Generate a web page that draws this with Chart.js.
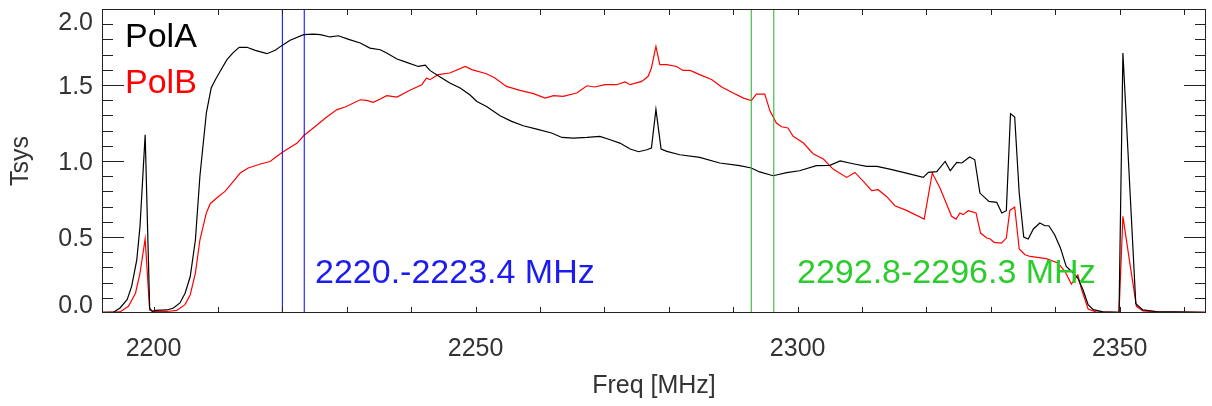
<!DOCTYPE html>
<html>
<head>
<meta charset="utf-8">
<script src="https://cdn.jsdelivr.net/npm/chart.js@4/dist/chart.umd.min.js"></script>
<style>
  body { margin: 0; background: #fff; }
  canvas { display: block; }
</style>
</head>
<body>
<canvas id="tsysChart" width="1212" height="406"></canvas>
<script>
// PolA (black)
var freqA = [2192.0, 2193.8, 2194.8, 2195.9, 2196.6, 2197.4, 2197.9, 2198.7, 2199.4, 2199.8,
  2200.3, 2202.1, 2203.1, 2204.1, 2204.9, 2205.7, 2206.5, 2207.2, 2208.2, 2208.95,
  2209.6, 2210.35, 2211.4, 2212.4, 2213.3, 2214.5, 2215.8, 2217.6, 2218.9, 2219.9,
  2221.2, 2223.3, 2224.8, 2225.9, 2227.4, 2228.7, 2230.3, 2232.1, 2233.6, 2235.2,
  2236.2, 2237.8, 2239.3, 2241.1, 2242.2, 2242.9, 2244.5, 2246.0, 2247.6, 2249.1,
  2250.2, 2251.7, 2253.8, 2255.6, 2257.4, 2259.5, 2261.8, 2263.4, 2265.2, 2267.3,
  2269.3, 2270.9, 2272.4, 2274.0, 2275.3, 2276.6, 2277.3, 2278.0, 2278.8, 2279.7,
  2281.7, 2284.8, 2287.9, 2291.0, 2292.8, 2294.1, 2296.2, 2298.3, 2300.3, 2302.9,
  2305.0, 2306.6, 2308.6, 2310.7, 2312.3, 2314.3, 2316.4, 2319.5, 2320.3, 2321.6,
  2322.9, 2323.7, 2324.7, 2325.5, 2326.7, 2327.5, 2328.3, 2329.7, 2330.9, 2331.7,
  2332.4, 2333.05, 2333.7, 2334.4, 2335.1, 2335.8, 2336.6, 2337.6, 2338.4, 2339.0,
  2339.9, 2340.8, 2341.7, 2342.8, 2343.5, 2344.3, 2345.1, 2345.9, 2347.4, 2349.9,
  2350.5, 2352.5, 2353.6, 2355.7, 2363.4];
var tsysA = [0.005, 0.005, 0.033, 0.088, 0.175, 0.35, 0.57, 1.173, 0.033, 0.01,
  0.017, 0.02, 0.033, 0.066, 0.13, 0.24, 0.48, 0.90, 1.316, 1.48,
  1.535, 1.59, 1.667, 1.715, 1.748, 1.748, 1.728, 1.706, 1.728, 1.759,
  1.794, 1.831, 1.835, 1.831, 1.816, 1.824, 1.80, 1.776, 1.743, 1.732,
  1.71, 1.671, 1.649, 1.622, 1.631, 1.596, 1.553, 1.513, 1.48, 1.436,
  1.392, 1.359, 1.298, 1.261, 1.232, 1.21, 1.184, 1.155, 1.151, 1.155,
  1.162, 1.14, 1.118, 1.079, 1.061, 1.074, 1.085, 1.34, 1.079, 1.063,
  1.041, 1.024, 0.987, 0.969, 0.954, 0.928, 0.903, 0.923, 0.936, 0.969,
  0.971, 1.0, 0.982, 0.965, 0.965, 0.947, 0.925, 0.892, 0.925, 0.93,
  0.997, 0.936, 0.991, 0.987, 1.026, 1.008, 0.789, 0.734, 0.728, 0.658,
  0.673, 1.311, 1.289, 0.789, 0.50, 0.487, 0.553, 0.592, 0.574, 0.574,
  0.515, 0.428, 0.307, 0.263, 0.23, 0.153, 0.055, 0.022, 0.007, 0.005,
  1.71, 0.061, 0.02, 0.01, 0.005];

// PolB (red)
var freqB = [2192.0, 2194.8, 2196.1, 2197.2, 2197.9, 2198.7, 2199.4, 2200.1, 2202.1, 2203.6,
  2204.9, 2205.7, 2206.5, 2207.2, 2208.2, 2208.8, 2209.8, 2211.1, 2212.4, 2213.45,
  2214.7, 2216.6, 2218.1, 2219.1, 2220.2, 2222.3, 2223.3, 2224.8, 2226.9, 2228.5,
  2229.75, 2232.1, 2233.1, 2234.1, 2235.2, 2236.2, 2237.8, 2239.8, 2241.65, 2242.4,
  2242.9, 2244.2, 2246.0, 2248.4, 2249.4, 2251.7, 2253.0, 2254.8, 2256.9, 2259.0,
  2260.8, 2262.1, 2263.6, 2265.7, 2267.3, 2268.5, 2270.1, 2271.9, 2273.2, 2274.0,
  2275.8, 2276.8, 2277.3, 2278.0, 2278.6, 2279.7, 2281.2, 2282.2, 2283.3, 2284.8,
  2286.7, 2288.2, 2290.0, 2291.6, 2292.8, 2293.6, 2294.9, 2295.7, 2296.7, 2297.5,
  2298.5, 2299.3, 2300.9, 2302.4, 2304.0, 2305.5, 2307.6, 2308.9, 2310.2, 2311.5,
  2312.5, 2313.8, 2315.1, 2316.9, 2319.65, 2320.9, 2322.1, 2323.9, 2324.6, 2325.2,
  2325.7, 2326.5, 2327.7, 2328.4, 2329.35, 2329.9, 2330.5, 2331.65, 2332.4, 2332.95,
  2333.7, 2334.4, 2335.3, 2336.1, 2338.6, 2340.4, 2341.5, 2342.5, 2343.5, 2344.1,
  2345.1, 2346.3, 2349.9, 2350.5, 2351.5, 2352.6, 2353.6, 2355.7, 2363.4];
var tsysB = [0.005, 0.007, 0.044, 0.13, 0.263, 0.487, 0.02, 0.01, 0.01, 0.017,
  0.055, 0.12, 0.263, 0.48, 0.658, 0.719, 0.757, 0.80, 0.866, 0.921,
  0.954, 0.98, 0.997, 1.03, 1.063, 1.118, 1.166, 1.217, 1.289, 1.338,
  1.355, 1.403, 1.399, 1.386, 1.408, 1.43, 1.421, 1.465, 1.502, 1.546,
  1.535, 1.568, 1.579, 1.622, 1.601, 1.574, 1.546, 1.491, 1.465, 1.443,
  1.414, 1.43, 1.425, 1.447, 1.495, 1.487, 1.502, 1.502, 1.52, 1.502,
  1.524, 1.557, 1.612, 1.754, 1.634, 1.634, 1.622, 1.596, 1.596, 1.568,
  1.535, 1.487, 1.447, 1.414, 1.397, 1.44, 1.44, 1.33, 1.25, 1.225,
  1.217, 1.162, 1.118, 1.048, 1.013, 0.947, 0.892, 0.925, 0.866, 0.805,
  0.811, 0.767, 0.706, 0.675, 0.618, 0.921, 0.822, 0.636, 0.618, 0.658,
  0.647, 0.673, 0.658, 0.526, 0.493, 0.487, 0.465, 0.46, 0.493, 0.675,
  0.697, 0.421, 0.383, 0.372, 0.358, 0.329, 0.274, 0.19, 0.25, 0.153,
  0.026, 0.007, 0.005, 0.636, 0.35, 0.044, 0.014, 0.007, 0.005];

// band edges (vertical lines) and their captions
var bandBlue = [2220.0, 2223.4];
var bandGreen = [2292.8, 2296.3];
var bandLabels = ['2220.-2223.4 MHz', '2292.8-2296.3 MHz'];

var seriesNames = ['PolA', 'PolB'];
var xTickValues = [2200, 2250, 2300, 2350];
var yTickValues = [0, 0.5, 1.0, 1.5, 2.0];
var yTickLabels = ['0.0', '0.5', '1.0', '1.5', '2.0'];

var FONT = '"Liberation Sans", Arial, Helvetica, sans-serif';

function toPoints(xs, ys) {
   var pts = [];
   for (var i = 0; i < xs.length; i++) pts.push({x: xs[i], y: ys[i]});
   return pts;
}

function vline(f, color) {
   return {data: [{x: f, y: 0}, {x: f, y: 2}], borderColor: color, borderWidth: 1,
           pointRadius: 0, tension: 0};
}

// IDL style frame: box, inward ticks on all sides, y labels, legend text, band captions
var idlFrame = {
   id: 'idlFrame',
   afterDraw: function(chart) {
      var ctx = chart.ctx, a = chart.chartArea;
      var xs = chart.scales.x, ys = chart.scales.y;
      ctx.save();
      ctx.strokeStyle = '#222';
      ctx.lineWidth = 1;
      ctx.strokeRect(a.left + 0.5, a.top + 0.5, a.right - a.left - 1, a.bottom - a.top - 1);

      ctx.beginPath();
      for (var f = 2200; f <= 2360; f += 10) {
         var px = Math.round(xs.getPixelForValue(f)) + 0.5;
         ctx.moveTo(px, a.top); ctx.lineTo(px, a.top + 6);
         ctx.moveTo(px, a.bottom); ctx.lineTo(px, a.bottom - 6);
      }
      for (var k = 1; k < 20; k++) {
         var py = Math.round(ys.getPixelForValue(k / 10)) + 0.5;
         var len = (k % 5 === 0) ? 22 : 11;
         ctx.moveTo(a.left, py); ctx.lineTo(a.left + len, py);
         ctx.moveTo(a.right, py); ctx.lineTo(a.right - len, py);
      }
      ctx.stroke();

      ctx.font = '25px ' + FONT;
      ctx.fillStyle = '#333';
      ctx.textAlign = 'right';
      ctx.textBaseline = 'middle';
      for (var j = 0; j < yTickValues.length; j++) {
         var ly = ys.getPixelForValue(yTickValues[j]) + 2;
         ly = Math.min(Math.max(ly, a.top + 14), a.bottom - 7);
         ctx.fillText(yTickLabels[j], 93, ly);
      }

      ctx.font = '34px ' + FONT;
      ctx.textAlign = 'left';
      ctx.textBaseline = 'alphabetic';
      ctx.fillStyle = '#000';
      ctx.fillText(seriesNames[0], 125, 47);
      ctx.fillStyle = '#ff0000';
      ctx.fillText(seriesNames[1], 125, 93);
      ctx.fillStyle = '#1c1cf0';
      ctx.fillText(bandLabels[0], 315, 283);
      ctx.fillStyle = '#2ccc2c';
      ctx.fillText(bandLabels[1], 797, 283);
      ctx.restore();
   }
};

var ctx = document.getElementById('tsysChart');

var tsysChart = new Chart(ctx, {
   type: 'line',
   data: {
      datasets: [
         vline(bandBlue[0], '#0000ff'),
         vline(bandBlue[1], '#0000ff'),
         vline(bandGreen[0], '#22b022'),
         vline(bandGreen[1], '#22b022'),
         {label: seriesNames[0], data: toPoints(freqA, tsysA), borderColor: '#000000',
          borderWidth: 1.2, pointRadius: 0, tension: 0},
         {label: seriesNames[1], data: toPoints(freqB, tsysB), borderColor: '#ff0000',
          borderWidth: 1.2, pointRadius: 0, tension: 0}
      ]
   },
   options: {
      responsive: false,
      animation: false,
      layout: {padding: {left: 0, right: 6, top: 9, bottom: 0}},
      plugins: {legend: {display: false}, tooltip: {enabled: false}},
      scales: {
         x: {
            type: 'linear',
            min: 2192.0,
            max: 2363.4,
            grid: {display: false, drawTicks: false},
            border: {display: false},
            afterBuildTicks: function(s) {
               s.ticks = xTickValues.map(function(v) { return {value: v}; });
            },
            afterFit: function(s) { s.height = 93; s.paddingLeft = 0; s.paddingRight = 0; },
            ticks: {
               color: '#333',
               padding: 21,
               maxRotation: 0,
               font: {family: FONT, size: 25},
               callback: function(v) { return String(v); }
            },
            title: {display: true, text: 'Freq [MHz]', color: '#333',
                    font: {family: FONT, size: 25}, padding: {bottom: 5}}
         },
         y: {
            min: 0,
            max: 2.0,
            grid: {display: false, drawTicks: false},
            border: {display: false},
            ticks: {display: false},
            afterFit: function(s) { s.width = 102; s.paddingTop = 0; s.paddingBottom = 0; },
            title: {display: true, text: 'Tsys', color: '#333',
                    font: {family: FONT, size: 25}, padding: {top: 6}}
         }
      }
   },
   plugins: [idlFrame]
});
</script>
</body>
</html>
